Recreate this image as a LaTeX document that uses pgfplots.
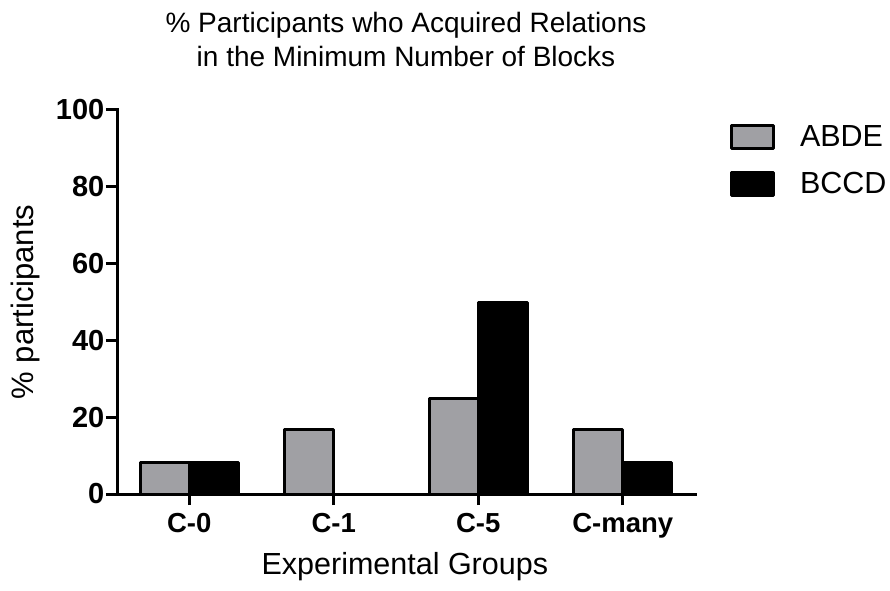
\documentclass[border=0pt]{standalone}
\usepackage{fontspec}
\setmainfont{Liberation Sans}
\usepackage{pgfplots}
\pgfplotsset{compat=1.18}
\definecolor{barg}{RGB}{160,160,164}
\pgfplotsset{boxlegend/.style={legend image code/.code={\draw[##1,line width=3pt,line join=round] (0pt,-11.5pt) rectangle (42pt,11.5pt);}}}
\begin{document}
\begin{tikzpicture}[x=1pt,y=1pt]
\path[use as bounding box] (0,0) rectangle (890,590);
\begin{axis}[
  at={(117pt,96pt)}, anchor=south west,
  scale only axis, width=578pt, height=384pt,
  xmin=-0.5, xmax=3.5, ymin=0, ymax=100,
  axis x line*=bottom, axis y line*=left,
  axis line style={line width=3pt, line cap=rect},
  ybar=0pt, bar width=49pt,
  xtick={0,1,2,3}, xticklabels={C-0,C-1,C-5,C-many},
  ytick={0,20,40,60,80,100},
  tick align=outside, major tick length=11pt,
  tick style={line width=3pt, black},
  /pgf/number format/assume math mode=true,
  yticklabel style={font=\fontsize{29}{29}\selectfont\bfseries, inner sep=1.5pt},
  xticklabel style={font=\fontsize{27.5}{27.5}\selectfont\bfseries, inner sep=0pt, yshift=-8pt},
  title={\% Participants who Acquired Relations\\in the Minimum Number of Blocks},
  title style={at={(axis description cs:0.5,1.0964)}, anchor=south, inner sep=0pt, align=center, font=\fontsize{28}{34}\selectfont},
  xlabel={Experimental Groups},
  xlabel style={at={(axis description cs:0.498,-0.2109)}, anchor=base, inner sep=0pt, font=\fontsize{30.5}{30.5}\selectfont},
  ylabel={\% participants},
  ylabel style={at={(axis description cs:-0.1436,0.5)}, anchor=base, rotate=0, inner sep=0pt, font=\fontsize{31}{31}\selectfont},
  legend style={at={(axis description cs:1.0606,0.9635)}, anchor=north west, draw=none, fill=none, inner sep=0pt, outer sep=0pt, row sep=21pt, column sep=25pt, font=\fontsize{30.5}{30.5}\selectfont, nodes={inner sep=0pt}},
  legend cell align=left,
  clip=false,
]
\addplot[fill=barg, draw=black, line width=3pt, line join=round, boxlegend] coordinates {(0,8.33) (1,16.67) (2,25) (3,16.67)};
\addplot[fill=black, draw=black, line width=3pt, line join=round, boxlegend] coordinates {(0,8.33) (2,50) (3,8.33)};
\legend{ABDE,BCCD}
\end{axis}
\end{tikzpicture}
\end{document}
